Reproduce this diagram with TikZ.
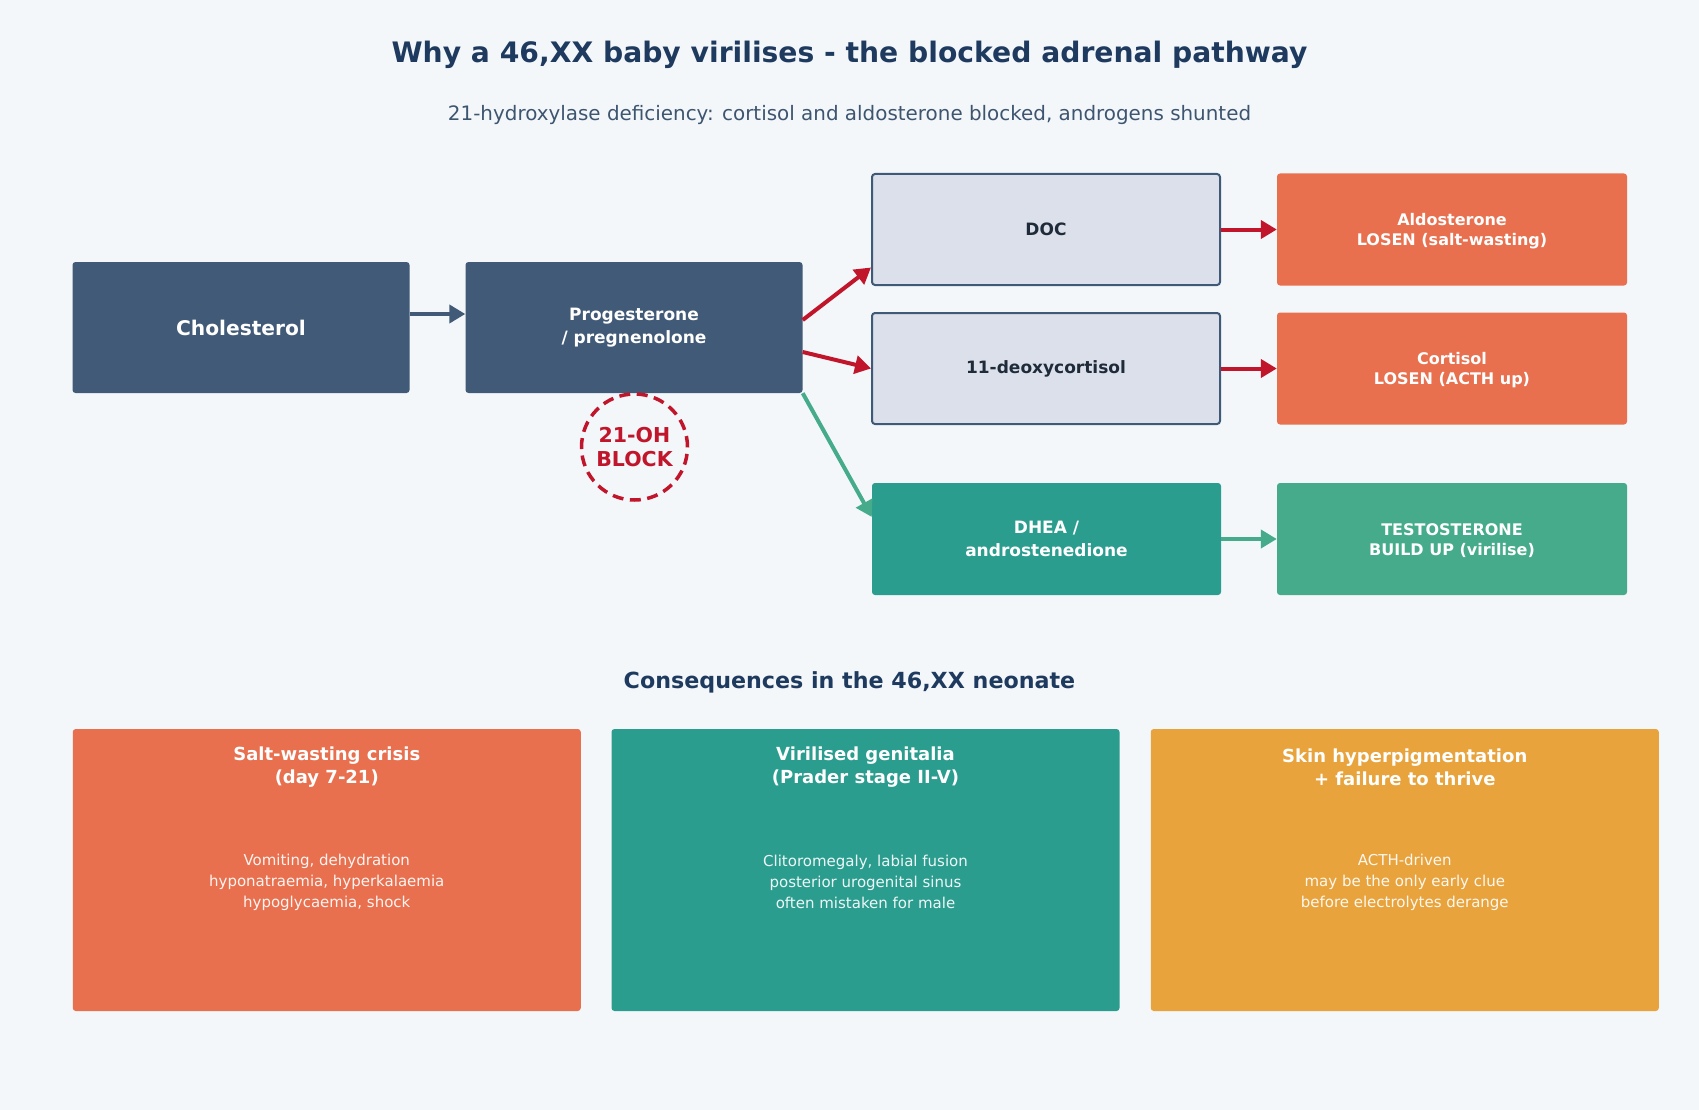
\documentclass[tikz,border=0pt]{standalone}
\usepackage{fontspec}
\setmainfont{DejaVu Sans}
\usetikzlibrary{positioning, arrows.meta, calc}
\definecolor{bgcol}{HTML}{F3F7FA}
\definecolor{navy}{HTML}{415A77}
\definecolor{titleblue}{HTML}{1F3A5F}
\definecolor{subgray}{HTML}{3E5570}
\definecolor{paleblue}{HTML}{DCE0EA}
\definecolor{edgeblue}{HTML}{3F5A78}
\definecolor{blockred}{HTML}{C0152A}
\definecolor{coral}{HTML}{E8704F}
\definecolor{tealbox}{HTML}{2A9D8F}
\definecolor{sage}{HTML}{45AB8A}
\definecolor{amber}{HTML}{E8A33C}
\definecolor{inkdark}{HTML}{1E2B3A}
\tikzstyle{stepbox} = [rectangle, rounded corners=3pt, align=center, inner sep=0pt, text=white, font=\fontsize{16}{20}\selectfont\bfseries]
\tikzstyle{srcbox} = [stepbox, fill=navy, minimum width=337pt, minimum height=131pt]
\tikzstyle{midbox} = [stepbox, fill=paleblue, draw=edgeblue, line width=2pt, text=inkdark, minimum width=348pt, minimum height=111pt, font=\fontsize{17}{22}\selectfont\bfseries]
\tikzstyle{endbox} = [stepbox, minimum width=350pt, minimum height=112pt]
\tikzstyle{card} = [rectangle, rounded corners=3pt, minimum width=508pt, minimum height=282pt]
\tikzstyle{cardhead} = [align=center, text=white, font=\fontsize{18}{22.5}\selectfont\bfseries]
\tikzstyle{cardbody} = [align=center, text=white, text opacity=0.92, font=\fontsize{15}{21}\selectfont]
\tikzstyle{redarrow} = [line width=4pt, blockred, -{Triangle[length=16pt, width=18pt]}]
\tikzstyle{greenarrow} = [line width=4pt, sage, -{Triangle[length=16pt, width=18pt]}]

\begin{document}
\begin{tikzpicture}[x=1pt, y=-1pt]
    % Background
    \fill[bgcol] (0,0) rectangle (1699,1110);
    \useasboundingbox (0,0) rectangle (1699,1110);

    % Titles
    \node[text=titleblue, font=\fontsize{28.2}{32}\selectfont\bfseries] (title) at (849.5,55) {Why a 46,XX baby virilises - the blocked adrenal pathway};
    \node[text=subgray, font=\fontsize{19.9}{24}\selectfont] (subtitle) at (849.5,115) {21-hydroxylase deficiency: cortisol and aldosterone blocked, androgens shunted};

    % Pathway
    \node[srcbox, font=\fontsize{20.2}{24}\selectfont\bfseries] (chol) at (241,327.5) {Cholesterol};
    \node[srcbox, font=\fontsize{17}{22.5}\selectfont\bfseries] (prog) at (634,327.5) {Progesterone\\/ pregnenolone};
    \node[circle, draw=blockred, line width=3.5pt, dash pattern=on 11pt off 6.5pt, minimum size=106pt, inner sep=0pt, align=center, text=blockred, font=\fontsize{20.5}{23.5}\selectfont\bfseries] (block) at (634.5,447) {21-OH\\BLOCK};

    \node[midbox] (doc) at (1046,229.5) {DOC};
    \node[midbox] (deoxy) at (1046,368.5) {11-deoxycortisol};
    \node[stepbox, fill=tealbox, minimum width=349pt, minimum height=112pt, font=\fontsize{17}{22.5}\selectfont\bfseries] (dhea) at (1046.5,539) {DHEA /\\androstenedione};

    \node[endbox, fill=coral] (aldo) at (1452,229.5) {\rule{0pt}{15pt}Aldosterone\\LOSEN (salt-wasting)};
    \node[endbox, fill=coral] (cort) at (1452,368.5) {\rule{0pt}{15pt}Cortisol\\LOSEN (ACTH up)};
    \node[endbox, fill=sage] (testo) at (1452,539) {\rule{0pt}{15pt}TESTOSTERONE\\BUILD UP (virilise)};

    % Arrows
    \draw[line width=4pt, navy, -{Triangle[length=16pt, width=18pt]}] ([yshift=13.5pt]chol.east) -- ([yshift=13.5pt]prog.west);
    \draw[redarrow] ([yshift=7.5pt]prog.east) -- ([yshift=-38pt]doc.west);
    \draw[redarrow] ([yshift=-24.5pt]prog.east) -- (deoxy.west);
    \draw[greenarrow] (prog.south east) -- ([yshift=22pt]dhea.west);
    \draw[redarrow] (doc.east) -- (aldo.west);
    \draw[redarrow] (deoxy.east) -- (cort.west);
    \draw[greenarrow] (dhea.east) -- (testo.west);

    % Consequences
    \node[text=titleblue, font=\fontsize{22.2}{26}\selectfont\bfseries] (conseq) at (849.5,682) {Consequences in the 46,XX neonate};

    \node[card, fill=coral] (salt) at (326.75,870) {};
    \node[cardhead] at ([yshift=-38.5pt]salt.north) {Salt-wasting crisis\\(day 7-21)};
    \node[cardbody] at ([yshift=-12pt]salt.center) {Vomiting, dehydration\\hyponatraemia, hyperkalaemia\\hypoglycaemia, shock};

    \node[card, fill=tealbox] (viril) at (865.5,870) {};
    \node[cardhead] at ([yshift=-38.5pt]viril.north) {Virilised genitalia\\(Prader stage II-V)};
    \node[cardbody] at ([yshift=-12pt]viril.center) {Clitoromegaly, labial fusion\\posterior urogenital sinus\\often mistaken for male};

    \node[card, fill=amber] (skin) at (1404.75,870) {};
    \node[cardhead] at ([yshift=-38.5pt]skin.north) {Skin hyperpigmentation\\+ failure to thrive};
    \node[cardbody] at ([yshift=-12pt]skin.center) {ACTH-driven\\may be the only early clue\\before electrolytes derange};
\end{tikzpicture}
\end{document}
